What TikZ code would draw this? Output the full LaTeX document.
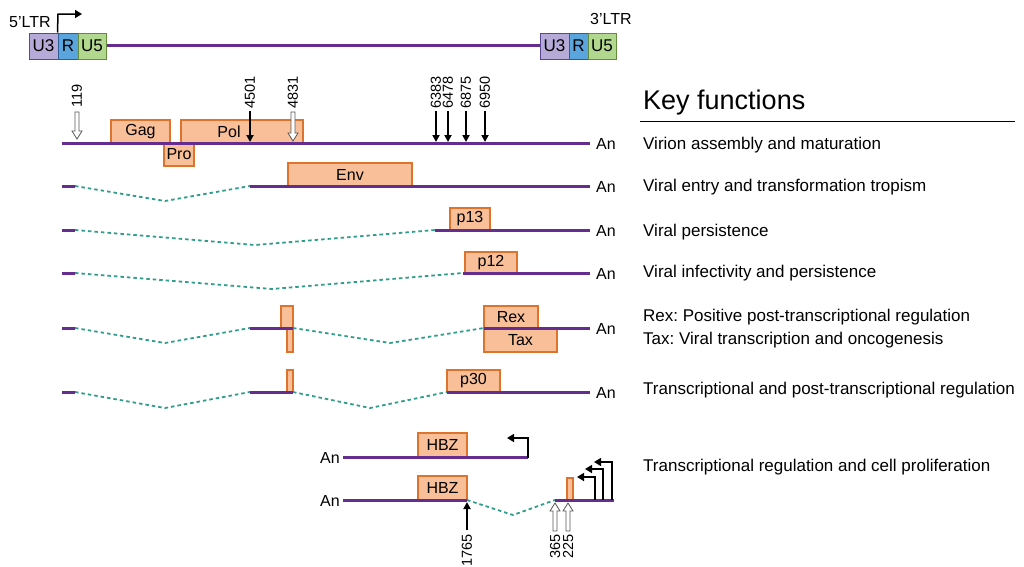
\documentclass[tikz,border=0pt]{standalone}
\usepackage{fontspec}
\setmainfont{Liberation Sans}
\usetikzlibrary{arrows.meta,fit}
\frenchspacing
\definecolor{rnapurple}{RGB}{102,45,145}
\definecolor{splteal}{RGB}{48,158,138}
\definecolor{orffill}{RGB}{248,191,152}
\definecolor{orfdraw}{RGB}{222,115,45}
\definecolor{uthreefill}{RGB}{182,170,216}
\definecolor{uthreedraw}{RGB}{90,72,150}
\definecolor{rfill}{RGB}{90,165,222}
\definecolor{rdraw}{RGB}{45,95,150}
\definecolor{ufivefill}{RGB}{178,215,142}
\definecolor{ufivedraw}{RGB}{100,140,60}
\newcommand\hollowdn[3]{\draw[hollow] ({#1-2},{#2}) -- ({#1+2},{#2}) -- ({#1+2},{#3-8}) -- ({#1+5},{#3-8}) -- ({#1},{#3}) -- ({#1-5},{#3-8}) -- ({#1-2},{#3-8}) -- cycle;}
\newcommand\hollowup[3]{\draw[hollow] ({#1-2},{#2}) -- ({#1+2},{#2}) -- ({#1+2},{#3+8}) -- ({#1+5},{#3+8}) -- ({#1},{#3}) -- ({#1-5},{#3+8}) -- ({#1-2},{#3+8}) -- cycle;}
\begin{document}
\begin{tikzpicture}[x=1pt,y=-1pt,
  rna/.style={draw=rnapurple,line width=3pt},
  splice/.style={draw=splteal,line width=1.8pt,dash pattern=on 3.5pt off 3pt},
  orf/.style={draw=orfdraw,fill=orffill,line width=1.2pt,inner sep=0pt},
  orftext/.style={font=\fontsize{16}{18}\selectfont,inner sep=0pt},
  ltrbox/.style={line width=1pt,inner sep=0pt},
  ltrtext/.style={font=\fontsize{17}{19}\selectfont,inner sep=0pt},
  lbl/.style={font=\fontsize{16}{18}\selectfont,inner sep=1pt},
  num/.style={font=\fontsize{14.5}{17}\selectfont,rotate=90,inner sep=0pt},
  func/.style={font=\fontsize{17}{20}\selectfont,anchor=west,inner sep=0pt},
  blkarrow/.style={black,line width=2pt,-{Triangle[length=7pt,width=7pt]}},
  prom/.style={black,line width=1.5pt,-{Triangle[length=7pt,width=8pt]}},
  hollow/.style={draw=gray!70!black,fill=white,line width=0.8pt}]
\useasboundingbox (0,0) rectangle (1024,566);
\fill[white] (0,0) rectangle (1024,566);

% ---------- proviral genome ----------
\draw[rna] (106,45) -- (540,45);
\node[ltrbox,draw=uthreedraw,fill=uthreefill,fit={(29,33)(58,59)}] (u3a) {};
\node[ltrbox,draw=rdraw,fill=rfill,fit={(58,33)(78,59)}] (ra) {};
\node[ltrbox,draw=ufivedraw,fill=ufivefill,fit={(78,33)(106,59)}] (u5a) {};
\node[ltrbox,draw=uthreedraw,fill=uthreefill,fit={(540,33)(569,59)}] (u3b) {};
\node[ltrbox,draw=rdraw,fill=rfill,fit={(569,33)(588,59)}] (rb) {};
\node[ltrbox,draw=ufivedraw,fill=ufivefill,fit={(588,33)(616,59)}] (u5b) {};
\node[ltrtext] (u3at) at (u3a) {U3};
\node[ltrtext] (rat) at (ra) {R};
\node[ltrtext] (u5at) at (u5a) {U5};
\node[ltrtext] (u3bt) at (u3b) {U3};
\node[ltrtext] (rbt) at (rb) {R};
\node[ltrtext] (u5bt) at (u5b) {U5};
\node[font=\fontsize{16}{18}\selectfont,anchor=base west,inner sep=0pt] (ltr5) at (9,27) {5'LTR};
\node[font=\fontsize{16}{18}\selectfont,anchor=base west,inner sep=0pt] (ltr3) at (590,24) {3'LTR};
\draw[prom] (ra.north west) -- (58,14) -- (82,14);

% ---------- Key functions ----------
\node[font=\fontsize{27}{30}\selectfont,anchor=west,inner sep=0pt] (key) at (643,103) {Key functions};
\draw[black,line width=1pt] (640,121) -- (1015,121);
\node[func] (f1) at (643,145) {Virion assembly and maturation};
\node[func] (f2) at (643,187) {Viral entry and transformation tropism};
\node[func] (f3) at (643,232) {Viral persistence};
\node[func] (f4) at (643,273) {Viral infectivity and persistence};
\node[func] (f5) at (643,317) {Rex: Positive post-transcriptional regulation};
\node[func] (f6) at (643,340) {Tax: Viral transcription and oncogenesis};
\node[func] (f7) at (643,390) {Transcriptional and post-transcriptional regulation};
\node[func] (f8) at (643,467) {Transcriptional regulation and cell proliferation};

% ---------- row 1: genomic ----------
\node[orf,fit={(111,120)(170,143)}] (gag) {};
\node[orf,fit={(181,120)(303,143)}] (pol) {};
\node[orf,fit={(164,143)(194,166)}] (pro) {};
\node[orftext] (gagt) at (gag) {Gag};
\node[orftext] (polt) at (229,131.5) {Pol};
\node[orftext] (prot) at (pro) {Pro};
\draw[rna] (62,143) -- (590,143);
\node[lbl,anchor=west] (an1) at (595,144) {An};
\hollowdn{77}{112}{139}
\draw[blkarrow] (250,111) -- (250,142);
\hollowdn{293}{112}{141}
\draw[blkarrow] (436,111) -- (436,142);
\draw[blkarrow] (448,111) -- (448,142);
\draw[blkarrow] (466,111) -- (466,142);
\draw[blkarrow] (485,111) -- (485,142);
\node[num,anchor=west] (n119) at (77,108) {119};
\node[num,anchor=west] (n4501) at (250,109) {4501};
\node[num,anchor=west] (n4831) at (293,109) {4831};
\node[num,anchor=west] (n6383) at (436,109) {6383};
\node[num,anchor=west] (n6478) at (448,109) {6478};
\node[num,anchor=west] (n6875) at (466,109) {6875};
\node[num,anchor=west] (n6950) at (485,109) {6950};

% ---------- row 2: Env ----------
\node[orf,fit={(288,163)(412,186)}] (env) {};
\node[orftext] (envt) at (env) {Env};
\draw[splice] (75,186) -- (165,201) -- (250,186);
\draw[rna] (62,186) -- (75,186);
\draw[rna] (250,186) -- (590,186);
\node[lbl,anchor=west] (an2) at (595,187) {An};

% ---------- row 3: p13 ----------
\node[orf,fit={(450,208)(490,230)}] (p13) {};
\node[orftext] (p13t) at (p13) {p13};
\draw[splice] (75,230) -- (255,245) -- (435,230);
\draw[rna] (62,230) -- (75,230);
\draw[rna] (435,230) -- (590,230);
\node[lbl,anchor=west] (an3) at (595,231) {An};

% ---------- row 4: p12 ----------
\node[orf,fit={(465,252)(517,273)}] (p12) {};
\node[orftext] (p12t) at (p12) {p12};
\draw[splice] (75,273) -- (272,289) -- (463,273);
\draw[rna] (62,273) -- (75,273);
\draw[rna] (463,273) -- (590,273);
\node[lbl,anchor=west] (an4) at (595,274) {An};

% ---------- row 5: Rex / Tax ----------
\node[orf,fit={(281,306)(293,328)}] (x5a) {};
\node[orf,fit={(287,328)(293,352)}] (x5b) {};
\node[orf,fit={(484,306)(538,328)}] (rex) {};
\node[orf,fit={(484,328)(557,352)}] (tax) {};
\node[orftext] (rext) at (rex) {Rex};
\node[orftext] (taxt) at (tax) {Tax};
\draw[splice] (75,328) -- (165,343) -- (250,328);
\draw[splice] (293,328) -- (390,343) -- (484,328);
\draw[rna] (62,328) -- (75,328);
\draw[rna] (250,328) -- (293,328);
\draw[rna] (484,328) -- (590,328);
\node[lbl,anchor=west] (an5) at (595,329) {An};

% ---------- row 6: p30 ----------
\node[orf,fit={(287,370)(293,392)}] (x6) {};
\node[orf,fit={(447,370)(500,392)}] (p30) {};
\node[orftext] (p30t) at (p30) {p30};
\draw[splice] (75,392) -- (165,408) -- (250,392);
\draw[splice] (293,392) -- (370,408) -- (447,392);
\draw[rna] (62,392) -- (75,392);
\draw[rna] (250,392) -- (293,392);
\draw[rna] (447,392) -- (590,392);
\node[lbl,anchor=west] (an6) at (595,393) {An};

% ---------- HBZ unspliced ----------
\node[orf,fit={(418,433)(467,457)}] (hbz1) {};
\node[orftext] (hbz1t) at (hbz1) {HBZ};
\draw[rna] (343,457) -- (528,457);
\node[lbl,anchor=east] (an7) at (341,458) {An};
\draw[prom] (528,458) -- (528,438) -- (507,438);

% ---------- HBZ spliced ----------
\node[orf,fit={(418,476)(467,500)}] (hbz2) {};
\node[orftext] (hbz2t) at (hbz2) {HBZ};
\node[orf,fit={(567,478)(573,500)}] (x8) {};
\draw[splice] (467,500) -- (513,515) -- (555,500);
\draw[rna] (343,500) -- (467,500);
\draw[rna] (555,500) -- (614,500);
\node[lbl,anchor=east] (an8) at (341,501) {An};
\draw[prom] (595,500) -- (595,477) -- (577,477);
\draw[prom] (603,500) -- (603,469) -- (585,469);
\draw[prom] (612,500) -- (612,462) -- (594,462);
\draw[blkarrow] (467,530) -- (467,502);
\hollowup{555}{531}{503}
\hollowup{568}{531}{503}
\node[num,anchor=east] (n1765) at (467,534) {1765};
\node[num,anchor=east] (n365) at (555,534) {365};
\node[num,anchor=east] (n225) at (568,534) {225};
\end{tikzpicture}
\end{document}
